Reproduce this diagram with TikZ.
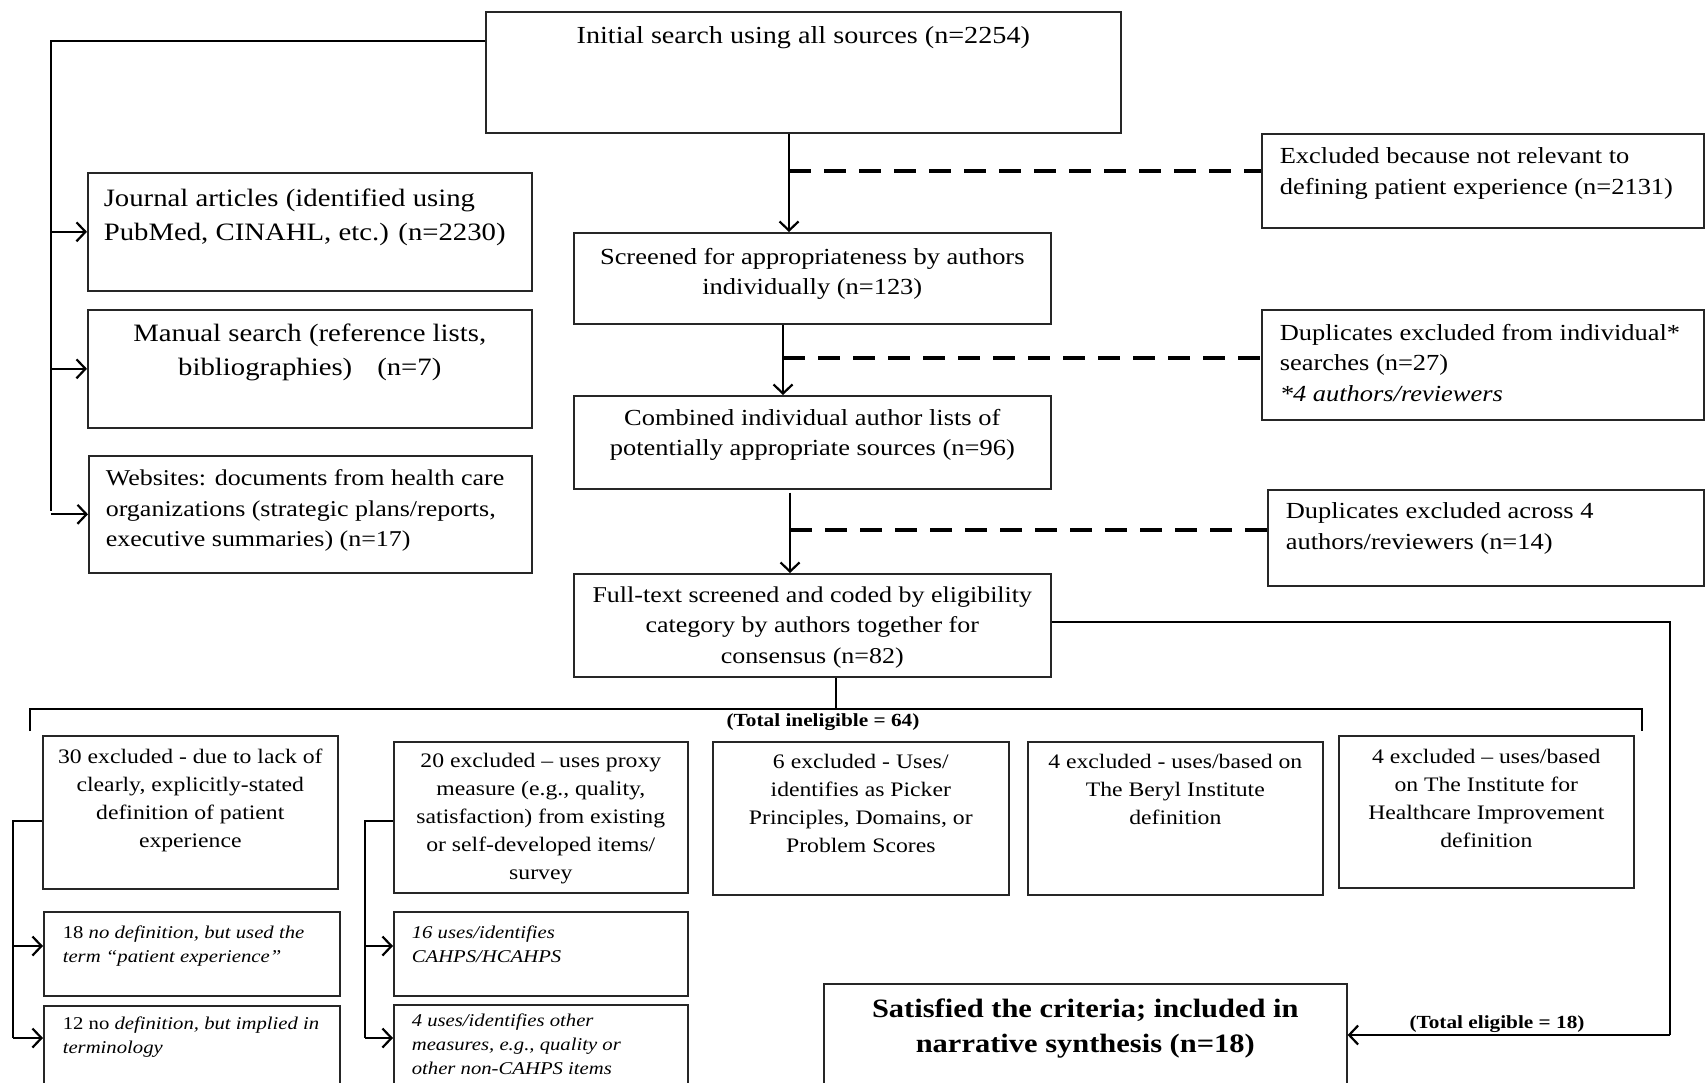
\documentclass[tikz,border=0pt]{standalone}
\usepackage{fontspec}
\setmainfont[FakeStretch=1.15]{Liberation Serif}
\usetikzlibrary{arrows.meta,calc}
\newcommand\inbox[4]{\parbox[c][#2][t]{#1}{\vspace*{#3}#4}}
\begin{document}
\begin{tikzpicture}[x=1pt,y=-1pt,
  box/.style={draw=black!85, line width=1.6pt, inner sep=0pt, anchor=north west},
  conn/.style={line width=2.2pt, black},
  arr/.style={conn, -{Straight Barb[length=9pt,width=19pt,line width=2.2pt]}},
  dashln/.style={line width=4pt, dash pattern=on 22pt off 13pt},
  fa/.style={font=\fontsize{23}{30.5}\selectfont},
  ff/.style={font=\fontsize{22.6}{30.5}\selectfont},
  fi/.style={font=\fontsize{24.5}{30.5}\selectfont},
  fb/.style={font=\fontsize{25}{34}\selectfont},
  fc/.style={font=\fontsize{20.6}{28}\selectfont},
  fd/.style={font=\fontsize{18}{24}\selectfont\itshape},
  lbl/.style={font=\fontsize{18.5}{20}\selectfont\bfseries, inner sep=0pt}
]
\useasboundingbox (0,0) rectangle (1705,1082);
\clip (0,0) rectangle (1705,1082);

% main column
\node[box,fi] (init) at (485,11) {\inbox{635pt}{121pt}{15pt}{\centering Initial search using all sources (n=2254)}};
\node[box,fa] (scr) at (573,232) {\inbox{477pt}{91pt}{15pt}{\centering Screened for appropriateness by authors\\ individually (n=123)}};
\node[box,fa] (comb) at (573,395) {\inbox{477pt}{93pt}{13pt}{\centering Combined individual author lists of\\ potentially appropriate sources (n=96)}};
\node[box,ff] (full) at (573,573) {\inbox{477pt}{103pt}{13pt}{\centering Full-text screened and coded by eligibility\\ category by authors together for\\ consensus (n=82)}};

% left sources
\node[box,fb] (jour) at (87,172) {\inbox{444pt}{118pt}{16pt}{\raggedright\leftskip=16pt Journal articles (identified using\\ PubMed, CINAHL, etc.) (n=2230)}};
\node[box,fb] (man) at (87,309) {\inbox{444pt}{118pt}{14pt}{\centering Manual search (reference lists,\\ bibliographies)\quad(n=7)}};
\node[box,ff] (web) at (88,455) {\inbox{443pt}{117pt}{14pt}{\raggedright\leftskip=17pt Websites: documents from health care\\ organizations (strategic plans/reports,\\ executive summaries) (n=17)}};

% right exclusions
\node[box,fa] (excl) at (1261,133) {\inbox{442pt}{94pt}{14pt}{\raggedright\leftskip=18pt Excluded because not relevant to\\ defining patient experience (n=2131)}};
\node[box,fa] (dupa) at (1261,309) {\inbox{442pt}{110pt}{14pt}{\raggedright\leftskip=18pt Duplicates excluded from individual*\\ searches (n=27)\\ \textit{*4 authors/reviewers}}};
\node[box,fa] (dupb) at (1267,489) {\inbox{436pt}{96pt}{13pt}{\raggedright\leftskip=18pt Duplicates excluded across 4\\ authors/reviewers (n=14)}};

% bottom categories
\node[box,fc] (ba) at (42,735) {\inbox{295pt}{153pt}{13pt}{\centering 30 excluded - due to lack of\\ clearly, explicitly-stated\\ definition of patient\\ experience}};
\node[box,fc] (bb) at (393,741) {\inbox{294pt}{151pt}{11pt}{\centering 20 excluded -- uses proxy\\ measure (e.g., quality,\\ satisfaction) from existing\\ or self-developed items/\\ survey}};
\node[box,fc] (bc) at (712,741) {\inbox{296pt}{153pt}{12pt}{\centering 6 excluded - Uses/\\ identifies as Picker\\ Principles, Domains, or\\ Problem Scores}};
\node[box,fc] (bd) at (1027,741) {\inbox{295pt}{153pt}{12pt}{\centering 4 excluded - uses/based on\\ The Beryl Institute\\ definition}};
\node[box,fc] (be) at (1338,735) {\inbox{295pt}{152pt}{13pt}{\centering 4 excluded -- uses/based\\ on The Institute for\\ Healthcare Improvement\\ definition}};

% sub boxes
\node[box,fd] (sa) at (43,911) {\inbox{296pt}{84pt}{14pt}{\raggedright\leftskip=19pt {\upshape 18} no definition, but used the\\ term ``patient experience''}};
\node[box,fd] (sb) at (43,1005) {\inbox{296pt}{92pt}{11pt}{\raggedright\leftskip=19pt {\upshape 12 no} definition, but implied in\\ terminology}};
\node[box,fd] (sc) at (393,911) {\inbox{294pt}{84pt}{14pt}{\raggedright\leftskip=18pt 16 uses/identifies\\ CAHPS/HCAHPS}};
\node[box,fd] (sd) at (393,1004) {\inbox{294pt}{92pt}{9pt}{\raggedright\leftskip=18pt 4 uses/identifies other\\ measures, e.g., quality or\\ other non-CAHPS items}};

% result
\node[box,font=\fontsize{26.5}{35}\selectfont\bfseries] (sat) at (823,983) {\inbox{523pt}{112pt}{15pt}{\centering Satisfied the criteria; included in\\ narrative synthesis (n=18)}};

% left trunk from initial search
\coordinate (tt) at (51,41);
\coordinate (tb) at (51,511);
\draw[conn] (init.west |- tt) -- (tt) -- (tb);
\draw[arr] (tt |- jour.west) -- (jour.west);
\draw[arr] (tt |- man.west) -- (man.west);
\draw[arr] (tt |- web.west) -- (web.west);

% main flow
\coordinate (ca) at (789,0);
\coordinate (cb) at (783,0);
\coordinate (cc) at (790,0);
\draw[arr] (ca |- init.south) -- (ca |- scr.north);
\draw[arr] (cb |- scr.south) -- (cb |- comb.north);
\draw[arr] ($(cc |- comb.south)+(0,3)$) -- (cc |- full.north);

% dashed exclusions
\coordinate (da) at (789,171);
\coordinate (db) at (783,358);
\coordinate (dc) at (790,530);
\draw[dashln] (da) -- (da -| excl.west);
\draw[dashln] (db) -- (db -| dupa.west);
\draw[dashln] (dc) -- (dc -| dupb.west);

% eligible path
\coordinate (ea) at (1670,622);
\coordinate (eb) at (1670,1035);
\draw[conn] (full.east |- ea) -- (ea) -- (eb);
\draw[arr] (eb) -- (sat.east |- eb);
\node[lbl] (tel) at (1497,1024) {(Total eligible = 18)};

% ineligible bracket
\coordinate (ia) at (836,709);
\coordinate (il) at (30,709);
\coordinate (ir) at (1642,709);
\draw[conn] (ia |- full.south) -- (ia);
\draw[conn] ($(il)+(0,22)$) -- (il) -- (ir) -- ($(ir)+(0,22)$);
\node[lbl] (tin) at (823,722) {(Total ineligible = 64)};

% sub-brackets
\coordinate (ka) at (13,821);
\coordinate (kb) at (13,1038);
\draw[conn] (ba.west |- ka) -- (ka) -- (kb);
\draw[arr] (13,946) -- (sa.west |- 0,946);
\draw[arr] (kb) -- (sb.west |- kb);
\coordinate (kc) at (365,821);
\coordinate (kd) at (365,1038);
\draw[conn] (bb.west |- kc) -- (kc) -- (kd);
\draw[arr] (365,946) -- (sc.west |- 0,946);
\draw[arr] (kd) -- (sd.west |- kd);
\end{tikzpicture}
\end{document}
